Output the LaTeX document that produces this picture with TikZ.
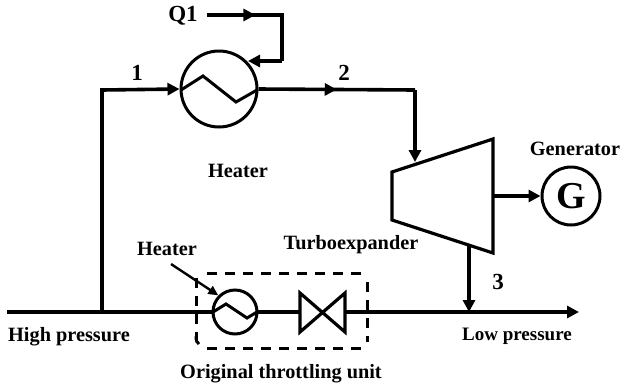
\documentclass[tikz,border=0pt]{standalone}
\usepackage{fontspec}
\setmainfont{Liberation Serif}
\usetikzlibrary{arrows.meta,decorations.markings}
\tikzset{
  pipe/.style={line width=3.6pt,line cap=butt,line join=miter},
  tipped/.style={pipe,-{Triangle[length=12pt,width=12pt]}},
  midtip/.style={postaction={decorate},decoration={markings,mark=at position #1 with {\arrow{Triangle[length=12pt,width=12pt]}}}},
  unit/.style={circle,draw,line width=3pt,inner sep=0pt,fill=white},
  zig/.style={line width=3pt,line join=miter},
  lab/.style={font=\bfseries\fontsize{20.3}{22}\selectfont,inner sep=0pt,anchor=center},
  num/.style={font=\bfseries\fontsize{23}{25}\selectfont,inner sep=0pt,anchor=center},
  body/.style={line width=3.2pt,line join=miter},
  dashbox/.style={line width=3pt,dash pattern=on 10pt off 8pt},
}
\begin{document}
\begin{tikzpicture}[x=1pt,y=-1pt]
\useasboundingbox (0,0) rectangle (621,389);
% junction coordinates
\coordinate (start) at (7,312);
\coordinate (end) at (579,312);
\coordinate (tee) at (102,312);
\coordinate (corner1) at (102,90);
\coordinate (qstart) at (207,15);
\coordinate (qc1) at (282,15);
\coordinate (qc2) at (282,61);
\coordinate (qend) at (248,61);
\coordinate (corner2) at (415,90);
\coordinate (tin) at (415,162);
\coordinate (tmid) at (493,196);
\coordinate (tbot) at (469,246);
\coordinate (join) at (469,312);
\coordinate (harrowstart) at (171,264);
% main line
\draw[tipped] (start) -- (end);
% equipment
\node[unit,minimum size=76pt] (heater) at (219,89) {};
\node[unit,minimum size=44pt] (small) at (235,312) {};
\node[unit,minimum size=58pt,font=\bfseries\fontsize{38}{40}\selectfont] (gen) at (571,196) {G};
\draw[zig] (181,90) -- (203,76) -- (236,102) -- (257,90);
\draw[zig] (213,312) -- (226,304) -- (247,318) -- (257,312);
% valve
\draw[body,fill=white] (300,293) -- (345,332) -- (345,293) -- (300,332) -- cycle;
% turbine
\draw[body,fill=white] (392,172) -- (493,139) -- (493,253) -- (392,220) -- cycle;
% connectors
\draw[tipped] (tee) -- (corner1) -- (heater.west);
\draw[pipe,midtip=0.4] (qstart) -- (qc1) -- (qc2);
\draw[tipped] (qc2) -- (qend);
\draw[pipe,midtip=0.5] (heater.east) -- (corner2);
\draw[tipped] (corner2) -- (tin);
\draw[tipped] (tmid) -- (gen.west);
\draw[tipped] (tbot) -- (join);
\draw[line width=2.4pt,-{Triangle[length=10pt,width=9pt]}] (harrowstart) -- (small.135);
% dashed unit
\draw[dashbox] (207,273) -- (361,273);
\draw[dashbox] (207,348) -- (361,348);
\draw[dashbox] (367,282) -- (367,342);
\draw[dashbox] (196,278) -- (196,340);
\draw[line width=3pt] (196,336) .. controls (196,341) and (197,343) .. (199,344);
% labels
\node[lab,font=\bfseries\fontsize{23}{25}\selectfont] (q) at (183,16) {Q1};
\node[lab] (lh1) at (238,171) {Heater};
\node[lab] (lg) at (575,149) {Generator};
\node[lab] (lt) at (351,245) {Turboexpander};
\node[lab] (lh2) at (167,249) {Heater};
\node[lab] (lhp) at (69,337) {High pressure};
\node[lab,font=\bfseries\fontsize{19}{21}\selectfont] (llp) at (517,336) {Low pressure};
\node[lab] (lo) at (281,374) {Original throttling unit};
\node[num] (n1) at (137,73) {1};
\node[num] (n2) at (344,73) {2};
\node[num] (n3) at (498,282) {3};
\end{tikzpicture}
\end{document}
